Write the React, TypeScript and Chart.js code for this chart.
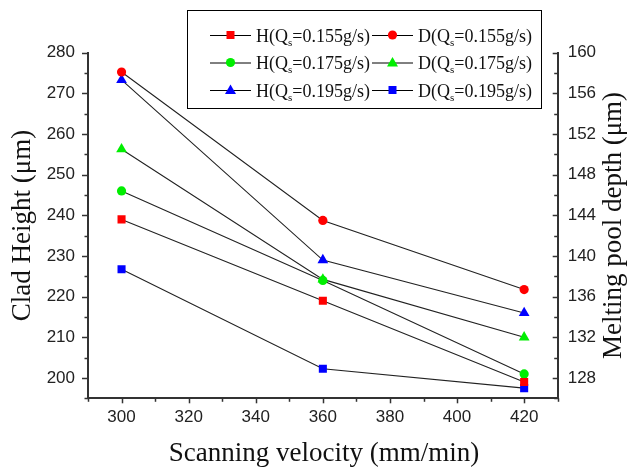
import React, { useEffect, useRef } from "react";
import { Chart, registerables } from "chart.js";

Chart.register(...registerables);

const velocities = [300, 360, 420];
const hQ155 = [239, 219, 199];
const hQ175 = [246, 224, 201];
const hQ195 = [273.3, 229, 216];
const dQ155 = [158.1, 143.5, 136.7];
const dQ175 = [150.5, 137.7, 132];
const dQ195 = [138.7, 128.9, 127.0];

const legendItems = [
  { prefix: "H", rate: "0.155", color: "#ff0000", shape: "rect" },
  { prefix: "D", rate: "0.155", color: "#ff0000", shape: "circle" },
  { prefix: "H", rate: "0.175", color: "#00ee00", shape: "circle" },
  { prefix: "D", rate: "0.175", color: "#00ee00", shape: "triangle" },
  { prefix: "H", rate: "0.195", color: "#0000ff", shape: "triangle" },
  { prefix: "D", rate: "0.195", color: "#0000ff", shape: "rect" },
];

const xTicks = [300, 320, 340, 360, 380, 400, 420];
const yTicks = [200, 210, 220, 230, 240, 250, 260, 270, 280];
const y1Ticks = [128, 132, 136, 140, 144, 148, 152, 156, 160];

const SERIF = '"Liberation Serif", "Times New Roman", serif';
const SANS = '"Liberation Sans", Arial, sans-serif';

function drawMarker(ctx: CanvasRenderingContext2D, shape: string, x: number, y: number, color: string) {
  ctx.fillStyle = color;
  ctx.beginPath();
  if (shape === "rect") {
    ctx.rect(x - 4, y - 4, 8, 8);
  } else if (shape === "circle") {
    ctx.arc(x, y, 4.6, 0, Math.PI * 2);
  } else {
    ctx.moveTo(x, y - 5.5);
    ctx.lineTo(x + 5.5, y + 4);
    ctx.lineTo(x - 5.5, y + 4);
    ctx.closePath();
  }
  ctx.fill();
}

const overlay = {
  id: "overlay",
  afterDraw(chart: any) {
    const ctx: CanvasRenderingContext2D = chart.ctx;
    const { x, y, y1 } = chart.scales;
    const area = chart.chartArea;
    ctx.save();
    ctx.strokeStyle = "#333";
    ctx.lineWidth = 1.5;
    // x ticks
    for (let v = 290; v <= 430; v += 10) {
      const px = Math.round(x.getPixelForValue(v)) + 0.5;
      const len = v % 20 === 0 ? 5 : 3.5;
      ctx.beginPath();
      ctx.moveTo(px, area.bottom);
      ctx.lineTo(px, area.bottom + len);
      ctx.stroke();
    }
    // left y ticks
    for (let v = 195; v <= 280; v += 5) {
      const py = Math.round(y.getPixelForValue(v)) + 0.5;
      const len = v % 10 === 0 ? 6 : 3.5;
      ctx.beginPath();
      ctx.moveTo(area.left, py);
      ctx.lineTo(area.left - len, py);
      ctx.stroke();
    }
    // right y ticks (inward)
    for (let v = 126; v <= 160; v += 2) {
      const py = Math.round(y1.getPixelForValue(v)) + 0.5;
      const len = v % 4 === 0 ? 5 : 3.5;
      ctx.beginPath();
      ctx.moveTo(area.right, py);
      ctx.lineTo(area.right - len, py);
      ctx.stroke();
    }

    // axis titles
    ctx.fillStyle = "#111";
    ctx.font = `27px ${SERIF}`;
    ctx.textAlign = "center";
    ctx.textBaseline = "middle";
    const cy = (area.top + area.bottom) / 2;
    ctx.save();
    ctx.translate(23, cy);
    ctx.rotate(-Math.PI / 2);
    ctx.fillText("Clad Height (μm)", 0, 0);
    ctx.restore();
    ctx.save();
    ctx.translate(614, cy);
    ctx.rotate(-Math.PI / 2);
    ctx.fillText("Melting pool depth (μm)", 0, 0);
    ctx.restore();
    ctx.fillText("Scanning velocity (mm/min)", 324, 454);

    // legend
    ctx.fillStyle = "#fff";
    ctx.fillRect(187, 10, 354, 98);
    ctx.strokeStyle = "#000";
    ctx.lineWidth = 1;
    ctx.strokeRect(187.5, 10.5, 354, 98);
    const rowsY = [35, 62.5, 90];
    const colX = [210, 372];
    legendItems.forEach((it, i) => {
      const row = Math.floor(i / 2);
      const col = i % 2;
      const lx = colX[col];
      const ly = rowsY[row];
      ctx.strokeStyle = "#000";
      ctx.lineWidth = 1;
      ctx.beginPath();
      ctx.moveTo(lx, ly + 0.5);
      ctx.lineTo(lx + 41, ly + 0.5);
      ctx.stroke();
      drawMarker(ctx, it.shape, lx + 20.5, ly, it.color);
      ctx.fillStyle = "#111";
      ctx.textAlign = "left";
      ctx.textBaseline = "alphabetic";
      let tx = lx + 46;
      const base = ly + 6.5;
      ctx.font = `18px ${SERIF}`;
      const p1 = `${it.prefix}(Q`;
      ctx.fillText(p1, tx, base);
      tx += ctx.measureText(p1).width;
      ctx.font = `11px ${SERIF}`;
      ctx.fillText("s", tx, base + 4);
      tx += ctx.measureText("s").width;
      ctx.font = `18px ${SERIF}`;
      ctx.fillText(`=${it.rate}g/s)`, tx, base);
    });
    ctx.restore();
  },
};

function pts(vals: number[]) {
  return velocities.map((v, i) => ({ x: v, y: vals[i] }));
}

export default function App() {
  const ref = useRef<HTMLCanvasElement>(null);
  useEffect(() => {
    if (!ref.current) return;
    const mk = (label: string, vals: number[], color: string, style: string, axis: string, r: number) => ({
      label,
      data: pts(vals),
      yAxisID: axis,
      borderColor: "#222",
      borderWidth: 1.1,
      backgroundColor: color,
      pointBackgroundColor: color,
      pointBorderColor: color,
      pointBorderWidth: 0,
      pointStyle: style,
      pointRadius: r,
      showLine: true,
      tension: 0,
      fill: false,
    });
    const chart = new Chart(ref.current, {
      type: "scatter",
      data: {
        datasets: [
          mk("H(Qs=0.155g/s)", hQ155, "#ff0000", "rect", "y", 5.7),
          mk("D(Qs=0.155g/s)", dQ155, "#ff0000", "circle", "y1", 4.6),
          mk("H(Qs=0.175g/s)", hQ175, "#00ee00", "circle", "y", 4.6),
          mk("D(Qs=0.175g/s)", dQ175, "#00ee00", "triangle", "y1", 6.2),
          mk("H(Qs=0.195g/s)", hQ195, "#0000ff", "triangle", "y", 6.2),
          mk("D(Qs=0.195g/s)", dQ195, "#0000ff", "rect", "y1", 5.7),
        ] as any,
      },
      options: {
        responsive: false,
        animation: false,
        layout: { padding: { top: 52.7, left: 0, right: 0, bottom: 0 } },
        plugins: { legend: { display: false }, tooltip: { enabled: false } },
        scales: {
          x: {
            type: "linear",
            position: "bottom",
            min: 290,
            max: 430,
            grid: { display: false, drawTicks: false },
            border: { display: true, color: "#333", width: 2 },
            afterBuildTicks: (s: any) => {
              s.ticks = xTicks.map((v) => ({ value: v }));
            },
            afterFit: (s: any) => {
              s.height = 70.7;
            },
            ticks: { color: "#222", font: { family: SANS, size: 17 }, padding: 9, maxRotation: 0 },
          },
          y: {
            type: "linear",
            position: "left",
            min: 195,
            max: 280,
            grid: { display: false, drawTicks: false },
            border: { display: true, color: "#333", width: 2 },
            afterBuildTicks: (s: any) => {
              s.ticks = yTicks.map((v) => ({ value: v }));
            },
            afterFit: (s: any) => {
              s.width = 88;
            },
            ticks: { color: "#222", font: { family: SANS, size: 17 }, padding: 13 },
          },
          y1: {
            type: "linear",
            position: "right",
            min: 126,
            max: 160,
            grid: { display: false, drawTicks: false },
            border: { display: true, color: "#333", width: 2 },
            afterBuildTicks: (s: any) => {
              s.ticks = y1Ticks.map((v) => ({ value: v }));
            },
            afterFit: (s: any) => {
              s.width = 76.3;
            },
            ticks: { color: "#222", font: { family: SANS, size: 17 }, padding: 10 },
          },
        },
      } as any,
      plugins: [overlay],
    });
    return () => chart.destroy();
  }, []);
  return (
    <div style={{ position: "absolute", left: 0, top: 0, width: 634, height: 469 }}>
      <canvas ref={ref} width={634} height={469} style={{ display: "block" }} />
    </div>
  );
}
